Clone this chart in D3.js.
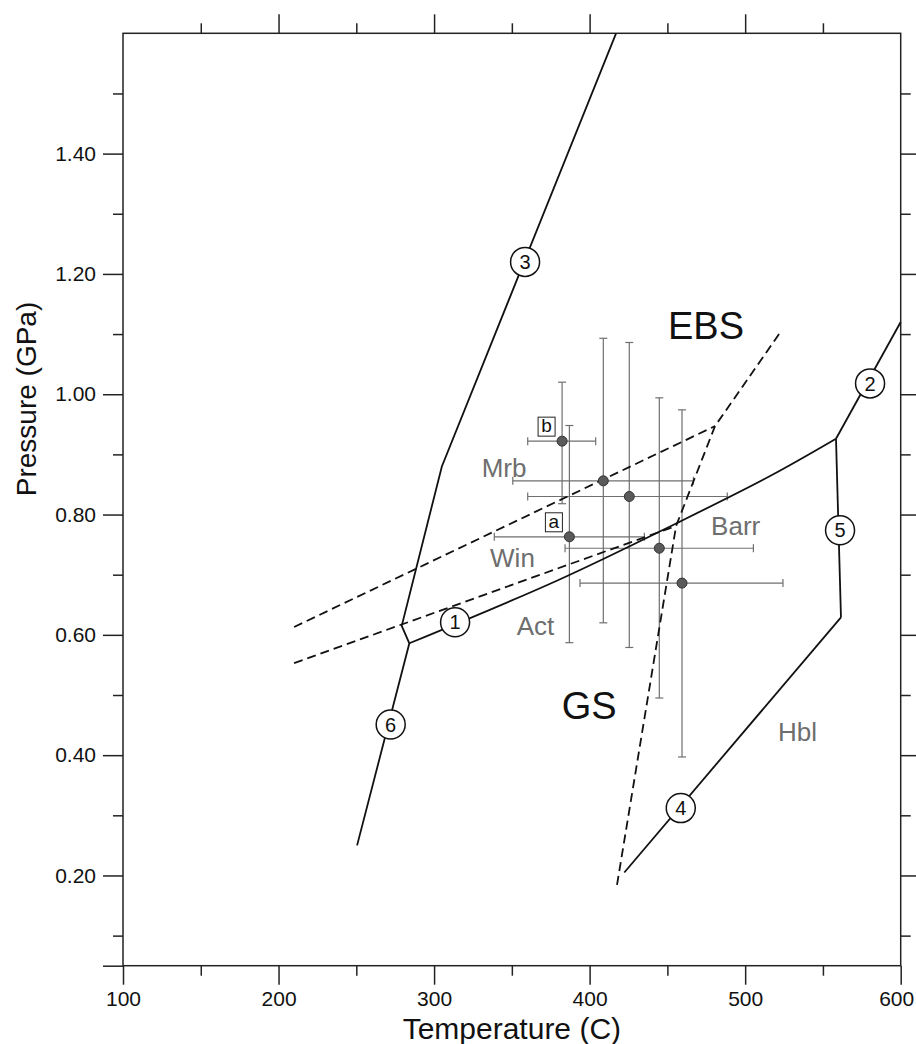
<!DOCTYPE html>
<html lang="en">
<head>
    <meta charset="UTF-8">
    <title>P-T diagram</title>
    <style>
        body { margin: 0; background: #fff; }
        svg text { font-family: "Liberation Sans", Arial, sans-serif; }
        .tick line { stroke: #222; stroke-width: 1.5px; }
        .tick text { fill: #111; font-size: 21px; }
    </style>
</head>
<body>
<div id="chart"></div>
<script src="https://d3js.org/d3.v7.min.js"></script>
<script>

    // axis ticks
    var tMajor = [100, 200, 300, 400, 500, 600];
    var tMinor = [150, 250, 350, 450, 550];
    var pMajor = [0.2, 0.4, 0.6, 0.8, 1.0, 1.2, 1.4];
    var pMinor = [0.1, 0.3, 0.5, 0.7, 0.9, 1.1, 1.3, 1.5];

    // reaction boundaries (T in C, P in GPa)
    var boundaryWest = [[417, 1.60], [305, 0.88], [279.2, 0.615], [284.1, 0.586], [250.5, 0.25]];
    var reaction1 = [[284.1, 0.586], [378.9, 0.690], [456.2, 0.786], [516, 0.864], [558.4, 0.926]];
    var reaction2 = [[558.4, 0.926], [600, 1.12]];
    var reaction5 = [[558.4, 0.926], [561.6, 0.629]];
    var reaction4 = [[561.6, 0.629], [422.3, 0.205]];

    var dashedUpper = [[210, 0.613], [480.6, 0.947]];
    var dashedLower = [[210, 0.553], [455.6, 0.781]];
    var dashedSteep = [[521.8, 1.10], [480.6, 0.947], [455.6, 0.781], [417.4, 0.181]];

    // numbered reaction markers
    var reactionNo = ["1", "2", "3", "4", "5", "6"];
    var reactionT = [313.5, 580.3, 358.5, 458.6, 561, 272.1];
    var reactionP = [0.621, 1.018, 1.220, 0.312, 0.774, 0.451];

    // samples with error ranges
    var sampleT = [382.3, 387.0, 408.8, 425.5, 444.8, 459.4];
    var sampleP = [0.922, 0.763, 0.856, 0.830, 0.744, 0.686];
    var tLow = [360.2, 338.7, 350.6, 360.2, 384.2, 393.8];
    var tHigh = [403.9, 435.2, 466.7, 488.5, 505.3, 524.3];
    var pLow = [0.818, 0.587, 0.620, 0.579, 0.495, 0.397];
    var pHigh = [1.020, 0.948, 1.093, 1.086, 0.994, 0.974];
    var sampleTag = ["b", "a", "", "", "", ""];

    // mineral labels (gray) and facies labels (black)
    var mineralNames = ["Mrb", "Win", "Barr", "Act", "Hbl"];
    var mineralT = [330.6, 336.0, 478.1, 353.1, 521.1];
    var mineralP = [0.863, 0.713, 0.766, 0.600, 0.424];
    var faciesNames = ["EBS", "GS"];
    var faciesT = [450.4, 382.1];
    var faciesP = [1.092, 0.460];


    var width = 916,
        height = 1044;

    var svg = d3.select("#chart").append("svg")
        .attr("width", width)
        .attr("height", height);

    var x = d3.scaleLinear().domain([100, 600]).range([123, 900.7]);
    var y = d3.scaleLinear().domain([0.05, 1.60]).range([965.7, 33.3]);

    var plotL = x.range()[0], plotR = x.range()[1],
        plotT = y.range()[1], plotB = y.range()[0];

    // frame
    svg.append("rect")
        .attr("x", plotL).attr("y", plotT)
        .attr("width", plotR - plotL).attr("height", plotB - plotT)
        .attr("fill", "none")
        .attr("stroke", "#222")
        .attr("stroke-width", 1.5);

    function addAxis(axis, tx, ty) {
        var g = svg.append("g")
            .attr("transform", "translate(" + tx + "," + ty + ")")
            .call(axis);
        g.select(".domain").remove();
        return g;
    }

    var fmtP = d3.format(".2f");

    var xLab = addAxis(d3.axisBottom(x).tickValues(tMajor).tickSize(19).tickPadding(6).tickFormat(d3.format("d")), 0, plotB);
    // keep the last label inside the page
    xLab.selectAll(".tick text").filter(function (d) { return d === 600; })
        .attr("text-anchor", "end").attr("dx", "13px");
    addAxis(d3.axisBottom(x).tickValues(tMinor).tickSize(10).tickFormat(""), 0, plotB);
    addAxis(d3.axisTop(x).tickValues(tMajor.slice(1, -1)).tickSize(19).tickFormat(""), 0, plotT);
    addAxis(d3.axisTop(x).tickValues(tMinor).tickSize(10).tickFormat(""), 0, plotT);

    addAxis(d3.axisLeft(y).tickValues(pMajor).tickSize(20).tickPadding(7).tickFormat(fmtP), plotL, 0);
    addAxis(d3.axisLeft(y).tickValues(pMinor).tickSize(10).tickFormat(""), plotL, 0);
    addAxis(d3.axisLeft(y).tickValues([0.05]).tickSize(20).tickFormat(""), plotL, 0);
    addAxis(d3.axisRight(y).tickValues(pMajor).tickSize(19).tickFormat(""), plotR, 0);
    addAxis(d3.axisRight(y).tickValues(pMinor).tickSize(10).tickFormat(""), plotR, 0);

    // axis titles
    svg.append("text")
        .attr("x", (plotL + plotR) / 2)
        .attr("y", 1039)
        .attr("text-anchor", "middle")
        .attr("font-size", "30px")
        .attr("fill", "#111")
        .text("Temperature (C)");

    svg.append("text")
        .attr("transform", "translate(36,399) rotate(-90)")
        .attr("text-anchor", "middle")
        .attr("font-size", "28px")
        .attr("fill", "#111")
        .text("Pressure (GPa)");

    var line = d3.line()
        .x(function (d) { return x(d[0]); })
        .y(function (d) { return y(d[1]); });

    var smooth = d3.line()
        .curve(d3.curveCatmullRom)
        .x(function (d) { return x(d[0]); })
        .y(function (d) { return y(d[1]); });

    var plot = svg.append("g");

    // error bars
    var cap = 4;
    var bars = plot.append("g")
        .attr("stroke", "#6f6f6f")
        .attr("stroke-width", 1.2)
        .attr("fill", "none");

    sampleT.forEach(function (t, i) {
        var cx = x(t), cy = y(sampleP[i]);
        var x0 = x(tLow[i]), x1 = x(tHigh[i]);
        var y0 = y(pLow[i]), y1 = y(pHigh[i]);
        bars.append("line").attr("x1", x0).attr("x2", x1).attr("y1", cy).attr("y2", cy);
        bars.append("line").attr("x1", x0).attr("x2", x0).attr("y1", cy - cap).attr("y2", cy + cap);
        bars.append("line").attr("x1", x1).attr("x2", x1).attr("y1", cy - cap).attr("y2", cy + cap);
        bars.append("line").attr("x1", cx).attr("x2", cx).attr("y1", y0).attr("y2", y1);
        bars.append("line").attr("x1", cx - cap).attr("x2", cx + cap).attr("y1", y0).attr("y2", y0);
        bars.append("line").attr("x1", cx - cap).attr("x2", cx + cap).attr("y1", y1).attr("y2", y1);
    });

    // boundaries
    [boundaryWest, reaction2, reaction5, reaction4].forEach(function (pts) {
        plot.append("path")
            .attr("d", line(pts))
            .attr("fill", "none")
            .attr("stroke", "#111")
            .attr("stroke-width", 1.8);
    });
    plot.append("path")
        .attr("d", smooth(reaction1))
        .attr("fill", "none")
        .attr("stroke", "#111")
        .attr("stroke-width", 1.8);

    [dashedUpper, dashedLower, dashedSteep].forEach(function (pts) {
        plot.append("path")
            .attr("d", line(pts))
            .attr("fill", "none")
            .attr("stroke", "#111")
            .attr("stroke-width", 1.8)
            .attr("stroke-dasharray", "9,5");
    });

    // sample points
    plot.selectAll("circle.sample")
        .data(sampleT)
        .enter().append("circle")
        .attr("class", "sample")
        .attr("cx", function (d) { return x(d); })
        .attr("cy", function (d, i) { return y(sampleP[i]); })
        .attr("r", 5)
        .attr("fill", "#5a5a5a")
        .attr("stroke", "#333")
        .attr("stroke-width", 1);

    // boxed sample tags
    sampleT.forEach(function (t, i) {
        if (!sampleTag[i]) return;
        var bx = x(t) - 24, by = y(sampleP[i]) - 24;
        plot.append("rect")
            .attr("x", bx).attr("y", by)
            .attr("width", 17).attr("height", 19)
            .attr("fill", "#fff")
            .attr("stroke", "#222")
            .attr("stroke-width", 1);
        plot.append("text")
            .attr("x", bx + 8.5).attr("y", by + 15)
            .attr("text-anchor", "middle")
            .attr("font-size", "19px")
            .attr("fill", "#111")
            .text(sampleTag[i]);
    });

    // numbered circles on reactions
    var marks = plot.selectAll("g.rxn")
        .data(reactionNo)
        .enter().append("g")
        .attr("class", "rxn")
        .attr("transform", function (d, i) {
            return "translate(" + x(reactionT[i]) + "," + y(reactionP[i]) + ")";
        });
    marks.append("circle")
        .attr("r", 14.5)
        .attr("fill", "#fff")
        .attr("stroke", "#111")
        .attr("stroke-width", 1.5);
    marks.append("text")
        .attr("text-anchor", "middle")
        .attr("dy", "0.36em")
        .attr("font-size", "20px")
        .attr("fill", "#111")
        .text(function (d) { return d; });

    // labels
    mineralNames.forEach(function (name, i) {
        plot.append("text")
            .attr("x", x(mineralT[i]))
            .attr("y", y(mineralP[i]))
            .attr("font-size", "26px")
            .attr("fill", "#6e6e6e")
            .text(name);
    });

    faciesNames.forEach(function (name, i) {
        plot.append("text")
            .attr("x", x(faciesT[i]))
            .attr("y", y(faciesP[i]))
            .attr("font-size", "38px")
            .attr("fill", "#111")
            .text(name);
    });

</script>
</body>
</html>
